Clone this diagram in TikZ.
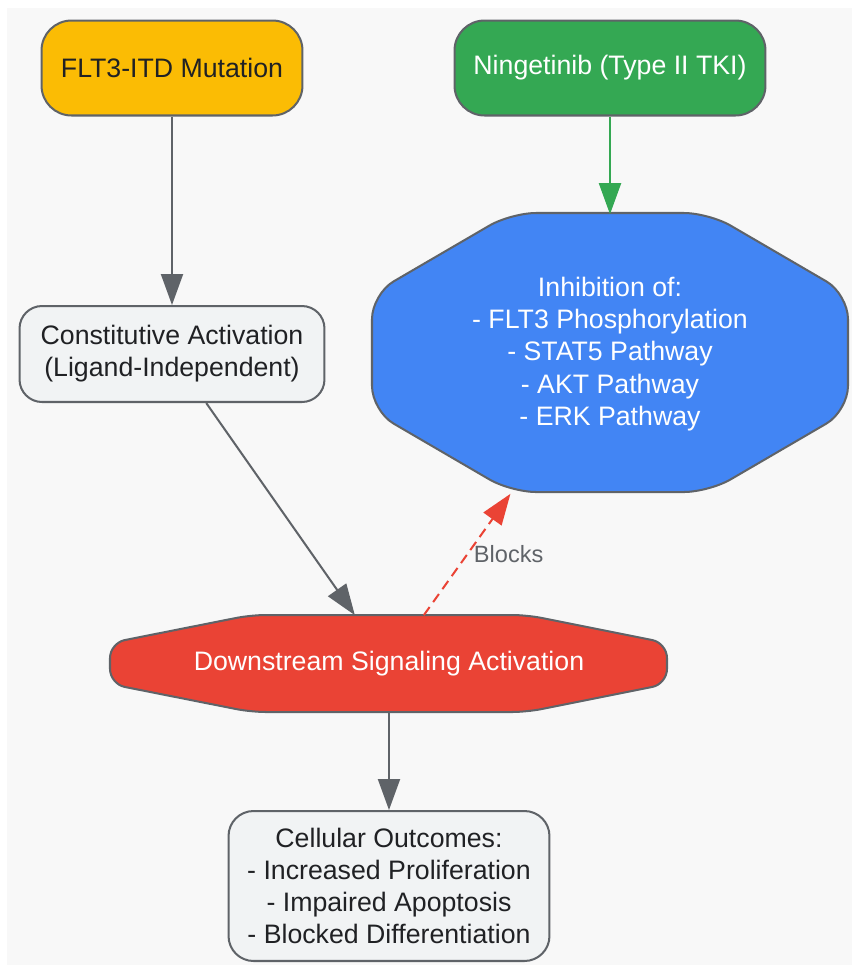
\documentclass[tikz,border=0pt]{standalone}
\usepackage{fontspec}
\setmainfont{Liberation Sans}
\usetikzlibrary{arrows.meta}

\definecolor{bg}   {RGB}{248,248,248}
\definecolor{line} {RGB}{95,99,104}
\definecolor{ink}  {RGB}{32,33,36}
\definecolor{mut}  {RGB}{251,188,4}
\definecolor{drug} {RGB}{52,168,83}
\definecolor{inh}  {RGB}{66,133,244}
\definecolor{sig}  {RGB}{234,67,53}
\definecolor{pale} {RGB}{241,243,244}

\begin{document}
\begin{tikzpicture}[x=0.02cm,y=-0.02cm,
    box/.style={draw=line,line width=1.15pt,rounded corners=0.6cm,align=center,
      font=\fontsize{15.2}{18.3}\selectfont,text=ink},
    txt/.style={align=center,font=\fontsize{15.2}{18.3}\selectfont,text=white},
    link/.style={arrows={-{Triangle[length=0.62cm,width=0.44cm]}},line width=1.15pt,draw=line}]

    \useasboundingbox (0,0) rectangle (852,965);
    \fill[white] (0,0) rectangle (852,965);
    \fill[bg] (7,8) rectangle (852,965);

    \node[box,fill=mut,minimum width=5.22cm,minimum height=1.9cm] (a) at (172,68) {FLT3-ITD Mutation};
    \node[box,fill=drug,text=white,minimum width=6.22cm,minimum height=1.9cm] (b) at (610,68) {Ningetinib (Type II TKI)};
    \node[box,fill=pale,rounded corners=0.45cm,minimum width=6.1cm,minimum height=1.92cm] (c) at (172,354) {Constitutive Activation\\(Ligand-Independent)};

    \draw[fill=inh,draw=line,line width=1.15pt,rounded corners=0.5cm]
      (610,213) -- (709,213) -- (848,294) -- (848,411) -- (709,492) -- (511,492)
      -- (372,411) -- (372,294) -- (511,213) -- cycle;
    \node[txt,minimum width=9.52cm,minimum height=5.58cm] (d) at (610,354)
      {Inhibition of:\\- FLT3 Phosphorylation\\- STAT5 Pathway\\- AKT Pathway\\- ERK Pathway};

    \draw[fill=sig,draw=line,line width=1.15pt,rounded corners=0.3cm]
      (389,615) -- (527,615) -- (667,643) -- (667,684) -- (527,712) -- (251,712)
      -- (110,684) -- (110,643) -- (251,615) -- cycle;
    \node[txt,minimum width=11.14cm,minimum height=1.94cm] (e) at (389,664) {Downstream Signaling Activation};

    \node[box,fill=pale,rounded corners=0.5cm,minimum width=6.42cm,minimum height=3cm] (f) at (389,886)
      {Cellular Outcomes:\\- Increased Proliferation\\- Impaired Apoptosis\\- Blocked Differentiation};

    \draw[link] (a) -- (c);
    \draw[link,draw=drug] (b) -- (d);
    \draw[link] (c) -- (e);
    \draw[link,draw=sig,dash pattern=on 0.2cm off 0.12cm] (e) -- (d)
      node[midway,right,text=line,font=\fontsize{13.4}{16}\selectfont]{Blocks};
    \draw[link] (e) -- (f);

  \end{tikzpicture}
\end{document}
